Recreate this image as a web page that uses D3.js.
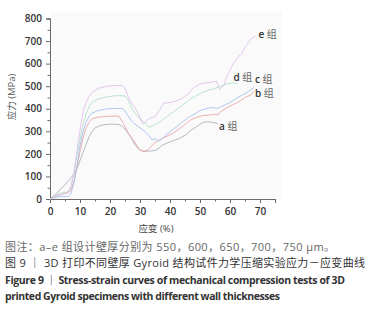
<!DOCTYPE html>
<html>
<head>
<meta charset="utf-8">
<script src="https://cdn.jsdelivr.net/npm/d3@7"></script>
<style>
  body { margin: 0; background: #fff; }
  svg text { font-family: "Open Sans", "Noto Sans CJK SC", sans-serif; }
</style>
</head>
<body>
<script>
// curves: strain (%) / stress (MPa)
var strainA = [0, 2, 4, 6, 8, 9, 10, 11, 12, 13, 14, 15, 17, 20, 23, 24, 25, 26, 27, 28, 29, 30, 31, 33, 35, 36, 37, 39, 41, 43, 45, 47, 49, 51, 53, 55, 56];
var stressA = [0, 22, 50, 78, 110, 135, 170, 205, 240, 275, 300, 315, 327, 332, 330, 322, 310, 292, 272, 248, 228, 218, 213, 212, 215, 222, 235, 248, 258, 268, 282, 305, 322, 340, 342, 338, 333];

var strainB = [0, 2, 4, 6, 7, 8, 9, 10, 11, 12, 13, 14, 16, 20, 23, 24, 25, 26, 27, 28, 29, 30, 31, 32, 33, 34, 35, 37, 39, 41, 43, 45, 47, 49, 51, 53, 55, 56, 57, 59, 61, 63, 65, 67, 68];
var stressB = [0, 12, 22, 28, 40, 80, 140, 210, 270, 315, 340, 355, 363, 367, 367, 345, 320, 295, 275, 258, 235, 218, 210, 212, 222, 238, 250, 265, 278, 292, 310, 330, 352, 362, 370, 372, 375, 372, 388, 405, 418, 432, 450, 462, 478];

var strainC = [0, 2, 4, 6, 7, 8, 9, 10, 11, 12, 13, 14, 16, 19, 24, 25, 26, 27, 28, 30, 32, 33, 34, 35, 36, 37, 38, 40, 42, 44, 46, 48, 50, 52, 54, 56, 58, 60, 62, 64, 66, 68];
var stressC = [0, 8, 12, 10, 25, 70, 150, 235, 300, 340, 365, 380, 392, 400, 402, 390, 370, 350, 335, 315, 295, 280, 262, 268, 258, 262, 275, 298, 318, 340, 360, 375, 392, 400, 405, 402, 415, 428, 445, 460, 475, 494];

var strainD = [0, 2, 4, 6, 7, 8, 9, 10, 11, 12, 13, 14, 16, 19, 22, 25, 26, 27, 28, 29, 30, 32, 33, 34, 35, 37, 39, 41, 43, 45, 47, 49, 51, 53, 55, 57, 59, 61, 62.5];
var stressD = [0, 18, 28, 32, 55, 115, 195, 265, 330, 378, 408, 428, 443, 453, 458, 457, 440, 410, 385, 370, 355, 333, 318, 322, 330, 345, 365, 385, 405, 425, 445, 460, 474, 483, 490, 500, 510, 515, 512];

var strainE = [0, 2, 4, 6, 7, 8, 9, 10, 11, 12, 13, 14, 16, 19, 22, 24, 25, 26, 27, 28, 29, 30, 31, 32, 33, 35, 36, 38, 40, 42, 44, 46, 48, 50, 52, 54, 55.5, 56.5, 58, 59, 61, 62.5, 64, 65, 67, 68.5];
var stressE = [0, 12, 22, 28, 55, 120, 215, 305, 385, 428, 455, 472, 490, 500, 503, 503, 490, 455, 428, 410, 390, 360, 332, 345, 355, 365, 385, 425, 428, 435, 445, 465, 495, 510, 515, 518, 522, 485, 505, 545, 598, 628, 645, 672, 710, 722];

var groups = ["a", "b", "c", "d", "e"];
var colors = ["#b0b0bf", "#eca6a6", "#a6c1ec", "#b3e0c8", "#e0bfec"];
var xTicks = [0, 10, 20, 30, 40, 50, 60, 70];
var yTicks = [0, 100, 200, 300, 400, 500, 600, 700, 800];

var captions = [
  "图注：a–e 组设计壁厚分别为 550，600，650，700，750 μm。",
  "图 9 ｜ 3D 打印不同壁厚 Gyroid 结构试件力学压缩实验应力－应变曲线",
  "Figure 9 ｜ Stress-strain curves of mechanical compression tests of 3D",
  "printed Gyroid specimens with different wall thicknesses"
];

var series = [
  { name: "a", x: strainA, y: stressA },
  { name: "b", x: strainB, y: stressB },
  { name: "c", x: strainC, y: stressC },
  { name: "d", x: strainD, y: stressD },
  { name: "e", x: strainE, y: stressE }
];
// where the "x 组" tags sit relative to each curve's last point
var tagOffset = { a: [1, 3], b: [1, 2], c: [1, -8], d: [-4, -6], e: [3, -2] };

var W = 378, H = 311;
var svg = d3.select("body").append("svg").attr("width", W).attr("height", H);

var x = d3.scaleLinear().domain([0, 75]).range([50, 275]);
var y = d3.scaleLinear().domain([0, 800]).range([199, 18.5]);

// faint plot backdrop
svg.append("rect").attr("x", 50).attr("y", 12).attr("width", 232).attr("height", 188)
  .attr("fill", "#fafafa");

var xAxis = d3.axisBottom(x).tickValues(xTicks).tickSize(4).tickPadding(5);
var xMinor = d3.axisBottom(x).tickValues(d3.range(5, 76, 10)).tickSize(2.5).tickFormat("");
var yAxis = d3.axisLeft(y).tickValues(yTicks).tickSize(4).tickPadding(4);
var yMinor = d3.axisLeft(y).tickValues(d3.range(50, 800, 100)).tickSize(2.5).tickFormat("");

function styleAxis(g) {
  g.select(".domain").attr("stroke", "#6a6a6a");
  g.selectAll(".tick line").attr("stroke", "#6a6a6a");
  g.selectAll(".tick text").attr("fill", "#333").style("font-size", "10px").style("font-weight", "600");
}

svg.append("g").attr("transform", "translate(0,199)").call(xAxis).call(styleAxis);
svg.append("g").attr("transform", "translate(0,199)").call(xMinor).call(styleAxis);
svg.append("g").attr("transform", "translate(50,0)").call(yAxis).call(styleAxis);
svg.append("g").attr("transform", "translate(50,0)").call(yMinor).call(styleAxis);

var line = d3.line().x(d => x(d[0])).y(d => y(d[1]));
var color = d3.scaleOrdinal().domain(groups).range(colors);

series.forEach(s => {
  var pts = s.x.map((v, i) => [v, s.y[i]]);
  svg.append("path").datum(pts).attr("d", line)
    .attr("fill", "none").attr("stroke", color(s.name)).attr("stroke-width", 0.9);

  var last = pts[pts.length - 1];
  var off = tagOffset[s.name];
  var t = svg.append("text")
    .attr("x", x(last[0]) + off[0]).attr("y", y(last[1]) + off[1])
    .attr("dy", "0.35em").style("font-size", "10px");
  t.append("tspan").text(s.name + " ").attr("fill", "#333").style("font-weight", "600");
  t.append("tspan").text("组").attr("fill", "#666");
});

// axis titles
svg.append("text").attr("x", 156).attr("y", 229).attr("dy", "0.35em")
  .attr("text-anchor", "middle").attr("fill", "#444").style("font-size", "9.5px")
  .text("应变 (%)");
svg.append("text").attr("transform", "translate(12,97) rotate(-90)").attr("dy", "0.35em")
  .attr("text-anchor", "middle").attr("fill", "#555").style("font-size", "9.5px")
  .text("应力 (MPa)");

// caption block
var capY = [247, 263, 280, 296];
var capW = [330, 360, 340, 275];
var capSize = [11, 11, 10.5, 10.5];
var capFill = ["#666", "#333", "#333", "#333"];
captions.forEach((c, i) => {
  svg.append("text").attr("x", 5).attr("y", capY[i]).attr("dy", "0.35em")
    .attr("fill", capFill[i])
    .attr("textLength", capW[i]).attr("lengthAdjust", "spacing")
    .style("font-size", capSize[i] + "px").style("font-weight", i >= 2 ? "700" : "400")
    .text(c);
});
</script>
</body>
</html>
